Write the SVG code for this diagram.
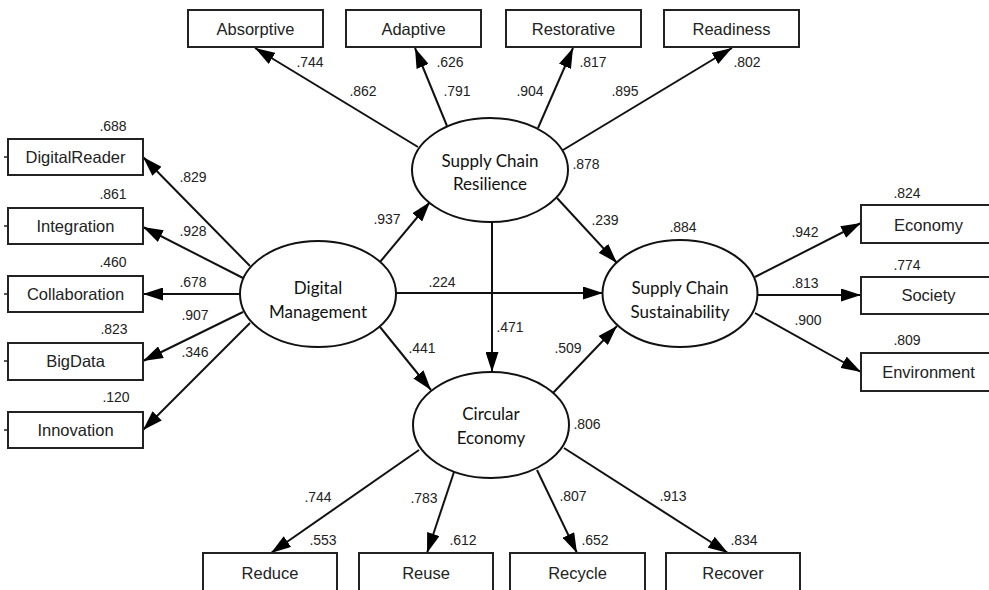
<svg xmlns="http://www.w3.org/2000/svg" width="989" height="590" viewBox="0 0 989 590">
  <defs>
    <marker id="arrow" markerUnits="userSpaceOnUse" markerWidth="21" markerHeight="13" refX="20" refY="6.5" orient="auto">
      <path d="M0,0 L20,6.5 L0,13 z" fill="#000"/>
    </marker>
    <style>
      .box { fill: #fff; stroke: #222; stroke-width: 2; }
      .latent { fill: #fff; stroke: #111; stroke-width: 2; }
      .blabel { font-family: "Liberation Sans", Arial, sans-serif; font-size: 16.5px; fill: #222; text-anchor: middle; dominant-baseline: central; }
      .llabel { font-family: Lato, "Open Sans", sans-serif; font-size: 17px; fill: #111; text-anchor: middle; dominant-baseline: central; }
      .num { font-family: "Liberation Sans", Arial, sans-serif; font-size: 14px; fill: #222; text-anchor: middle; dominant-baseline: central; }
      .conn line { stroke: #111; stroke-width: 2; marker-end: url(#arrow); }
      .stub line { stroke: #222; stroke-width: 1.5; }
    </style>
  </defs>
  <rect width="989" height="590" fill="#fff"/>

  <!-- connectors -->
  <g id="connectors" class="conn">
    <!-- Supply Chain Resilience indicators -->
    <line x1="418" y1="147" x2="255" y2="48"/>
    <line x1="447" y1="126" x2="415" y2="48"/>
    <line x1="538" y1="128" x2="573" y2="48"/>
    <line x1="563" y1="150" x2="732" y2="48"/>
    <!-- Digital Management indicators -->
    <line x1="250" y1="266" x2="143" y2="157"/>
    <line x1="243" y1="278" x2="143" y2="227"/>
    <line x1="240" y1="294" x2="143" y2="294"/>
    <line x1="243" y1="312" x2="143" y2="361"/>
    <line x1="250" y1="323" x2="143" y2="430"/>
    <!-- structural paths -->
    <line x1="380" y1="262" x2="430" y2="202"/>
    <line x1="396" y1="293" x2="603" y2="293"/>
    <line x1="380" y1="327" x2="431" y2="390"/>
    <line x1="557" y1="198" x2="617" y2="263"/>
    <line x1="553" y1="393" x2="617" y2="326"/>
    <line x1="492" y1="222" x2="492" y2="372"/>
    <!-- Supply Chain Sustainability indicators -->
    <line x1="755" y1="277" x2="861" y2="223"/>
    <line x1="758" y1="295" x2="861" y2="295"/>
    <line x1="755" y1="313" x2="861" y2="372"/>
    <!-- Circular Economy indicators -->
    <line x1="419" y1="450" x2="271" y2="553"/>
    <line x1="454" y1="472" x2="427" y2="553"/>
    <line x1="537" y1="470" x2="577" y2="553"/>
    <line x1="564" y1="448" x2="728" y2="553"/>
  </g>

  <!-- error term stubs on the left indicators -->
  <g class="stub">
    <line x1="4" y1="157" x2="8" y2="157"/>
    <line x1="4" y1="226" x2="8" y2="226"/>
    <line x1="4" y1="294" x2="8" y2="294"/>
    <line x1="4" y1="361" x2="8" y2="361"/>
    <line x1="4" y1="430" x2="8" y2="430"/>
  </g>

  <!-- latent constructs -->
  <g id="scr">
    <ellipse class="latent" cx="490" cy="170" rx="78" ry="52"/>
    <text class="llabel" x="490" y="160">Supply Chain</text>
    <text class="llabel" x="490" y="183">Resilience</text>
  </g>
  <g id="dm">
    <ellipse class="latent" cx="318" cy="294" rx="78" ry="53"/>
    <text class="llabel" x="318" y="287">Digital</text>
    <text class="llabel" x="318" y="311">Management</text>
  </g>
  <g id="scs">
    <ellipse class="latent" cx="680" cy="293.5" rx="77.5" ry="53.5"/>
    <text class="llabel" x="680" y="287">Supply Chain</text>
    <text class="llabel" x="680" y="311">Sustainability</text>
  </g>
  <g id="ce">
    <ellipse class="latent" cx="491" cy="425" rx="78" ry="53"/>
    <text class="llabel" x="491" y="413">Circular</text>
    <text class="llabel" x="491" y="437">Economy</text>
  </g>

  <!-- resilience indicators -->
  <g id="absorptive"><rect class="box" x="188" y="10" width="135" height="37"/><text class="blabel" x="255.5" y="29">Absorptive</text></g>
  <g id="adaptive"><rect class="box" x="346" y="10" width="135" height="37"/><text class="blabel" x="413.5" y="29">Adaptive</text></g>
  <g id="restorative"><rect class="box" x="506" y="10" width="135" height="37"/><text class="blabel" x="573.5" y="29">Restorative</text></g>
  <g id="readiness"><rect class="box" x="664" y="10" width="135" height="37"/><text class="blabel" x="731.5" y="29">Readiness</text></g>

  <!-- digital management indicators -->
  <g id="digitalreader"><rect class="box" x="8" y="139" width="135" height="36"/><text class="blabel" x="75.5" y="157">DigitalReader</text></g>
  <g id="integration"><rect class="box" x="8" y="208" width="135" height="36"/><text class="blabel" x="75.5" y="226">Integration</text></g>
  <g id="collaboration"><rect class="box" x="8" y="276" width="135" height="36"/><text class="blabel" x="75.5" y="294">Collaboration</text></g>
  <g id="bigdata"><rect class="box" x="8" y="343" width="135" height="37"/><text class="blabel" x="75.5" y="361">BigData</text></g>
  <g id="innovation"><rect class="box" x="8" y="412" width="135" height="36"/><text class="blabel" x="75.5" y="430">Innovation</text></g>

  <!-- sustainability indicators -->
  <g id="economy"><rect class="box" x="861" y="205" width="140" height="38"/><text class="blabel" x="928.5" y="225">Economy</text></g>
  <g id="society"><rect class="box" x="861" y="277" width="140" height="37"/><text class="blabel" x="928.5" y="295">Society</text></g>
  <g id="environment"><rect class="box" x="861" y="353" width="140" height="38"/><text class="blabel" x="928.5" y="372">Environment</text></g>

  <!-- circular economy indicators -->
  <g id="reduce"><rect class="box" x="203" y="553" width="134" height="42"/><text class="blabel" x="270" y="573">Reduce</text></g>
  <g id="reuse"><rect class="box" x="359" y="553" width="134" height="42"/><text class="blabel" x="426" y="573">Reuse</text></g>
  <g id="recycle"><rect class="box" x="510" y="553" width="135" height="42"/><text class="blabel" x="577.5" y="573">Recycle</text></g>
  <g id="recover"><rect class="box" x="666" y="553" width="134" height="42"/><text class="blabel" x="733" y="573">Recover</text></g>

  <!-- estimates -->
  <g id="estimates">
    <text class="num" x="310" y="62">.744</text>
    <text class="num" x="363" y="91">.862</text>
    <text class="num" x="450" y="62">.626</text>
    <text class="num" x="457" y="91">.791</text>
    <text class="num" x="530" y="91">.904</text>
    <text class="num" x="593" y="62">.817</text>
    <text class="num" x="625" y="91">.895</text>
    <text class="num" x="747" y="62">.802</text>
    <text class="num" x="586" y="164">.878</text>

    <text class="num" x="113" y="126">.688</text>
    <text class="num" x="113" y="194">.861</text>
    <text class="num" x="113" y="262">.460</text>
    <text class="num" x="114" y="329">.823</text>
    <text class="num" x="116" y="397">.120</text>
    <text class="num" x="193" y="177">.829</text>
    <text class="num" x="193" y="231">.928</text>
    <text class="num" x="193" y="282">.678</text>
    <text class="num" x="195" y="315">.907</text>
    <text class="num" x="195" y="352">.346</text>

    <text class="num" x="387" y="219">.937</text>
    <text class="num" x="442" y="282">.224</text>
    <text class="num" x="510" y="327">.471</text>
    <text class="num" x="422" y="348">.441</text>
    <text class="num" x="568" y="348">.509</text>
    <text class="num" x="605" y="220">.239</text>
    <text class="num" x="683" y="227">.884</text>
    <text class="num" x="587" y="424">.806</text>

    <text class="num" x="805" y="232">.942</text>
    <text class="num" x="805" y="283">.813</text>
    <text class="num" x="808" y="320">.900</text>
    <text class="num" x="907" y="193">.824</text>
    <text class="num" x="907" y="265">.774</text>
    <text class="num" x="907" y="340">.809</text>

    <text class="num" x="318" y="497">.744</text>
    <text class="num" x="424" y="498">.783</text>
    <text class="num" x="323" y="540">.553</text>
    <text class="num" x="463" y="540">.612</text>
    <text class="num" x="573" y="496">.807</text>
    <text class="num" x="673" y="496">.913</text>
    <text class="num" x="595" y="540">.652</text>
    <text class="num" x="744" y="540">.834</text>
  </g>
</svg>
